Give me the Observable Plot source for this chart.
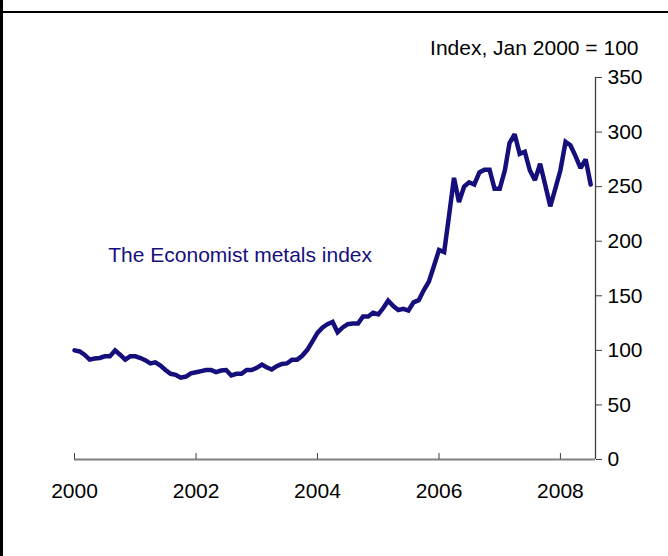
<!DOCTYPE html>
<html>
<head>
<meta charset="utf-8">
<script src="https://cdn.jsdelivr.net/npm/d3@7"></script>
<script src="https://cdn.jsdelivr.net/npm/@observablehq/plot@0.6"></script>
<style>
  html, body { margin: 0; padding: 0; background: #fff; }
  #wrap { position: relative; width: 668px; height: 556px; overflow: hidden; font-family: "Liberation Sans", Arial, sans-serif; }
  #wrap svg { position: absolute; left: 0; top: 0; }
  .left-border { position: absolute; left: 0; top: 0; width: 3px; height: 556px; background: #000; }
  .top-rule { position: absolute; left: 0; top: 11px; width: 668px; height: 2px; background: #000; }
</style>
</head>
<body>
<div id="wrap"></div>
<script>
// Monthly values of The Economist metals index (Jan 2000 = 100)
const v2000 = [100, 99, 96, 91.5, 92.5, 93, 94.5, 94.5, 100, 96, 91.5, 94.5];
const v2001 = [94.5, 93, 91, 88, 89, 86, 82, 78.5, 77.5, 75, 76, 79];
const v2002 = [80, 81, 82, 82, 80, 81.5, 82, 77, 78.5, 78.5, 82, 82];
const v2003 = [84, 87, 84.5, 82.5, 85.5, 87.5, 88, 91.5, 91.5, 95, 100.5, 108];
const v2004 = [116, 121, 124, 126, 116.5, 121, 124, 124.5, 124.5, 131, 131, 134.5];
const v2005 = [133, 139, 145.5, 140.5, 137, 138, 136.5, 144, 146, 155, 163, 177];
const v2006 = [192, 190, 222, 258, 236, 250, 254, 252, 263, 265.5, 265.5, 248];
const v2007 = [248, 265, 290, 298, 280, 282, 265, 256, 271, 252, 232, 248];
const v2008 = [265, 291, 288, 278, 267, 275, 252];

const seriesYears = [2000, 2001, 2002, 2003, 2004, 2005, 2006, 2007, 2008];
const seriesValues = [v2000, v2001, v2002, v2003, v2004, v2005, v2006, v2007, v2008];

const xTickYears = [2000, 2002, 2004, 2006, 2008];
const yTicks = [0, 50, 100, 150, 200, 250, 300, 350];

const seriesLabel = "The Economist metals index";
const unitLabel = "Index, Jan 2000 = 100";

const data = [];
seriesYears.forEach((yr, i) => {
  seriesValues[i].forEach((v, m) => data.push({date: new Date(Date.UTC(yr, m, 1)), value: v}));
});

const xStart = new Date(Date.UTC(2000, 0, 1));
const xEnd = new Date(Date.UTC(2008, 6, 30));
const xTicks = xTickYears.map(y => new Date(Date.UTC(y, 0, 1)));

const navy = "#150f7c";
const font = "'Liberation Sans', Arial, sans-serif";

const chart = Plot.plot({
  width: 668,
  height: 556,
  marginLeft: 74,
  marginRight: 73,
  marginTop: 77,
  marginBottom: 97,
  style: {fontFamily: font, fontSize: "21px", background: "#fff", color: "#000", overflow: "visible"},
  x: {type: "utc", domain: [xStart, xEnd]},
  y: {domain: [0, 350]},
  marks: [
    // x axis baseline
    Plot.ruleY([0], {stroke: "#808080", strokeWidth: 2}),
    // inward x ticks
    Plot.ruleX(xTicks, {y1: 0, y2: 5.5, stroke: "#404040", strokeWidth: 1}),
    Plot.axisX({ticks: xTicks, tickFormat: d => String(d.getUTCFullYear()), tickSize: 0, tickPadding: 24, fontSize: 21, fill: "#000"}),
    // right y axis line
    Plot.ruleX([xEnd], {y1: 0, y2: 350, stroke: "#404040", strokeWidth: 1.3}),
    Plot.axisY({anchor: "right", ticks: yTicks, tickFormat: d => String(d), tickSize: 6, tickPadding: 6, fontSize: 21, stroke: "#404040", fill: "#000", label: null}),
    Plot.line(data, {x: "date", y: "value", stroke: navy, strokeWidth: 4.5, strokeLinejoin: "miter", strokeMiterlimit: 2}),
    Plot.text([seriesLabel], {x: () => new Date(Date.UTC(2000, 6, 22)), y: () => 187, text: d => d, textAnchor: "start", lineAnchor: "middle", fill: navy, fontSize: 21}),
    Plot.text([unitLabel], {frameAnchor: "top-right", dx: 43, dy: -29, text: d => d, textAnchor: "end", lineAnchor: "middle", fill: "#000", fontSize: 21})
  ]
});

const wrap = document.getElementById("wrap");
wrap.appendChild(chart);
const lb = document.createElement("div"); lb.className = "left-border"; wrap.appendChild(lb);
const tr = document.createElement("div"); tr.className = "top-rule"; wrap.appendChild(tr);
</script>
</body>
</html>
